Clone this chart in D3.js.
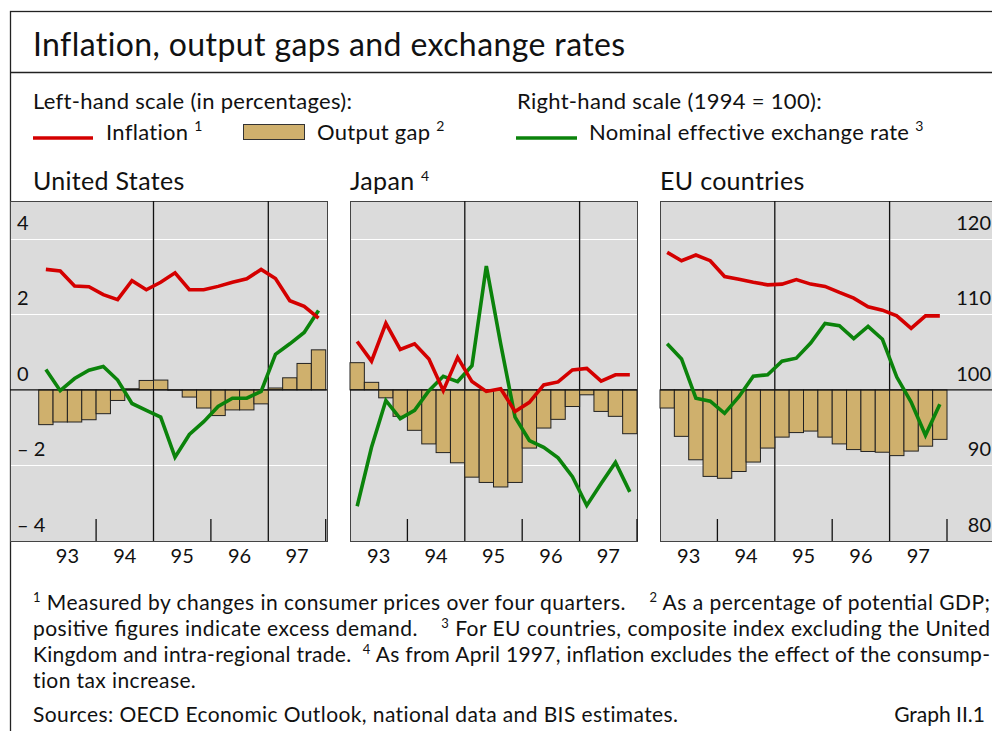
<!DOCTYPE html>
<html lang="en">
<head>
<meta charset="utf-8">
<title>Inflation, output gaps and exchange rates</title>
<script src="https://cdn.jsdelivr.net/npm/d3@7"></script>
<style>
  body { margin: 0; background: #fff; }
  svg text { font-family: Lato, "Open Sans", sans-serif; fill: #111; }
</style>
</head>
<body>
<svg width="992" height="731"></svg>
<script>
// quarterly, 1993 Q1 .. 1997 Q4
var countries = ['United States', 'Japan', 'EU countries'];
var years = [93, 94, 95, 96, 97];

// output gap, % of potential GDP (left scale)
var gapUS = [-0.92, -0.85, -0.85, -0.79, -0.63, -0.28, 0.03, 0.25, 0.26, -0.01, -0.19, -0.48, -0.68, -0.53, -0.53, -0.37, 0.05, 0.32, 0.70, 1.06];
var gapJP = [0.72, 0.20, -0.21, -0.70, -1.07, -1.43, -1.66, -1.93, -2.31, -2.45, -2.57, -2.45, -1.54, -1.01, -0.78, -0.44, -0.13, -0.57, -0.70, -1.16];
var gapEU = [-0.48, -1.23, -1.85, -2.29, -2.34, -2.16, -1.91, -1.54, -1.25, -1.13, -1.09, -1.25, -1.43, -1.58, -1.63, -1.65, -1.74, -1.62, -1.49, -1.31];

// inflation, % (left scale)
var inflUS = [3.19, 3.15, 2.75, 2.73, 2.52, 2.39, 2.89, 2.65, 2.85, 3.10, 2.65, 2.65, 2.74, 2.85, 2.94, 3.19, 2.95, 2.36, 2.21, 1.90];
var inflJP = [1.28, 0.76, 1.76, 1.07, 1.22, 0.82, -0.02, 0.86, 0.22, -0.04, 0.03, -0.57, -0.33, 0.13, 0.21, 0.53, 0.57, 0.23, 0.40, 0.40];
var inflEU = [3.64, 3.42, 3.57, 3.42, 3.00, 2.93, 2.85, 2.78, 2.80, 2.92, 2.80, 2.74, 2.58, 2.43, 2.20, 2.11, 1.96, 1.63, 1.96, 1.96];

// nominal effective exchange rate, 1994 = 100 (right scale)
var neerUS = [102.7, 99.9, 101.5, 102.6, 103.1, 101.3, 98.2, 97.3, 96.4, 91.1, 94.1, 95.8, 97.8, 98.9, 98.9, 99.8, 104.7, 106.1, 107.6, 110.5];
var neerJP = [84.6, 92.4, 98.6, 96.2, 97.3, 99.9, 101.8, 101.1, 103.2, 116.4, 106.1, 96.4, 93.3, 92.4, 91.0, 88.5, 84.7, 87.6, 90.4, 86.5];
var neerEU = [106.1, 104.1, 98.9, 98.5, 96.9, 99.1, 101.8, 102.0, 103.8, 104.2, 106.2, 108.8, 108.5, 106.8, 108.4, 106.7, 101.7, 98.4, 94.0, 98.1];

var leftTicks = [4, 2, 0, -2, -4];
var leftTickLabels = ['4', '2', '0', '\u2013 2', '\u2013 4'];
var rightTicks = [120, 110, 100, 90, 80];

var svg = d3.select('svg');
var RED = '#d40000', GREEN = '#0b830b', TAN = '#cfb06d', PANEL = '#dbdbdb';

// frame and title
svg.append('rect').attr('x', 10.5).attr('y', 11.5).attr('width', 1000).attr('height', 800)
    .attr('fill', 'none').attr('stroke', '#222').attr('stroke-width', 1.3);
svg.append('line').attr('x1', 10).attr('x2', 992).attr('y1', 72.5).attr('y2', 72.5)
    .attr('stroke', '#222').attr('stroke-width', 1.3);
svg.append('text').attr('x', 33).attr('y', 56).attr('font-size', 32).attr('letter-spacing', 0.4)
    .text('Inflation, output gaps and exchange rates');

// legend
var legendText = function(sel) { return sel.attr('font-size', 22).attr('letter-spacing', 0.3); };
svg.append('text').attr('x', 33).attr('y', 109).call(legendText).text('Left-hand scale (in percentages):');
svg.append('text').attr('x', 517).attr('y', 109).call(legendText).text('Right-hand scale (1994 = 100):');

function sup(sel, main, s) {
    sel.append('tspan').text(main + ' ');
    sel.append('tspan').attr('font-size', 14).attr('dy', -9).text(s);
}
svg.append('line').attr('x1', 33).attr('x2', 93).attr('y1', 138).attr('y2', 138).attr('stroke', RED).attr('stroke-width', 3.5);
svg.append('text').attr('x', 106).attr('y', 140).call(legendText).call(sup, 'Inflation', '1');
svg.append('rect').attr('x', 243.5).attr('y', 124.5).attr('width', 61).attr('height', 15)
    .attr('fill', TAN).attr('stroke', '#333');
svg.append('text').attr('x', 317).attr('y', 140).call(legendText).call(sup, 'Output gap', '2');
svg.append('line').attr('x1', 516).attr('x2', 577).attr('y1', 138).attr('y2', 138).attr('stroke', GREEN).attr('stroke-width', 3.5);
svg.append('text').attr('x', 589).attr('y', 140).call(legendText).call(sup, 'Nominal effective exchange rate', '3');

// panels
var panels = [
    {name: countries[0], note: null, left: 10, right: 327, start: 1992.5, gap: gapUS, infl: inflUS, neer: neerUS},
    {name: countries[1], note: '4', left: 350, right: 637, start: 1993, gap: gapJP, infl: inflJP, neer: neerJP},
    {name: countries[2], note: null, left: 660, right: 1010, start: 1993, gap: gapEU, infl: inflEU, neer: neerEU}
];
var yTop = 201, yBottom = 541;
var yL = d3.scaleLinear().domain([-4, 5]).range([yBottom, yTop]);
var yR = d3.scaleLinear().domain([80, 125]).range([yBottom, yTop]);
var perYear = 57.4;

panels.forEach(function(p, pi) {
    var x = d3.scaleLinear().domain([p.start, p.start + 1]).range([p.left, p.left + perYear]);
    var g = svg.append('g');

    var title = g.append('text').attr('x', p.left === 10 ? 33 : p.left).attr('y', 190)
        .attr('font-size', 25).attr('letter-spacing', 0.3);
    if (p.note) title.call(sup, p.name, p.note); else title.text(p.name);

    g.append('rect').attr('x', p.left + 0.5).attr('y', yTop + 0.5)
        .attr('width', p.right - p.left).attr('height', yBottom - yTop)
        .attr('fill', PANEL).attr('stroke', '#444');

    // white gridlines
    g.selectAll('line.grid').data([4, 2, -2])
        .enter().append('line')
        .attr('x1', p.left + 1).attr('x2', p.right)
        .attr('y1', function(v) { return Math.round(yL(v)) + 0.5; })
        .attr('y2', function(v) { return Math.round(yL(v)) + 0.5; })
        .attr('stroke', '#fff').attr('stroke-width', 1.2);

    // year dividers (full) and short ticks
    [1995, 1997].forEach(function(yr) {
        g.append('line').attr('x1', x(yr)).attr('x2', x(yr)).attr('y1', yTop).attr('y2', yBottom)
            .attr('stroke', '#111').attr('stroke-width', 1.3);
    });
    [1994, 1996, 1998].forEach(function(yr) {
        g.append('line').attr('x1', x(yr)).attr('x2', x(yr)).attr('y1', yBottom - 22).attr('y2', yBottom)
            .attr('stroke', '#111').attr('stroke-width', 1.3);
    });

    var qx = function(i) { return x(1993 + i / 4); };
    var qw = x(1993.25) - x(1993);

    g.selectAll('rect.bar').data(p.gap).enter().append('rect')
        .attr('class', 'bar')
        .attr('x', function(d, i) { return qx(i); })
        .attr('width', qw)
        .attr('y', function(d) { return yL(Math.max(0, d)); })
        .attr('height', function(d) { return Math.abs(yL(d) - yL(0)); })
        .attr('fill', TAN).attr('stroke', '#222').attr('stroke-width', 1);

    g.append('line').attr('x1', p.left).attr('x2', p.right).attr('y1', yL(0)).attr('y2', yL(0))
        .attr('stroke', '#111').attr('stroke-width', 1.3);

    var mid = function(d, i) { return qx(i) + qw / 2; };
    g.append('path').datum(p.neer)
        .attr('d', d3.line().x(mid).y(function(d) { return yR(d); }))
        .attr('fill', 'none').attr('stroke', GREEN).attr('stroke-width', 3.6);
    g.append('path').datum(p.infl)
        .attr('d', d3.line().x(mid).y(function(d) { return yL(d); }))
        .attr('fill', 'none').attr('stroke', RED).attr('stroke-width', 3.6);

    g.selectAll('text.yr').data(years).enter().append('text')
        .attr('x', function(d) { return x(1900 + d + 0.5); })
        .attr('y', 563).attr('text-anchor', 'middle').attr('font-size', 20)
        .text(function(d) { return d; });

    if (pi === 0) {
        g.selectAll('text.lt').data(leftTicks).enter().append('text')
            .attr('x', 17).attr('y', function(v) { return yL(v) - 9; })
            .attr('font-size', 20)
            .text(function(v, i) { return leftTickLabels[i]; });
    }
    if (pi === 2) {
        g.selectAll('text.rt').data(rightTicks).enter().append('text')
            .attr('x', 991).attr('y', function(v) { return yR(v) - 9; })
            .attr('text-anchor', 'end').attr('font-size', 20)
            .text(function(v) { return v; });
    }
});

// footnotes
var notes = [
    [['1', ' Measured by changes in consumer prices over four quarters.    '], ['2', ' As a percentage of potential GDP;']],
    [[null, 'positive figures indicate excess demand.    '], ['3', ' For EU countries, composite index excluding the United']],
    [[null, 'Kingdom and intra-regional trade.  '], ['4', ' As from April 1997, inflation excludes the effect of the consump-']],
    [[null, 'tion tax increase.']]
];
notes.forEach(function(line, li) {
    var t = svg.append('text').attr('x', 33).attr('y', 610 + li * 26).attr('font-size', 21)
        .attr('xml:space', 'preserve');
    line.forEach(function(part) {
        if (part[0]) {
            t.append('tspan').attr('font-size', 13).attr('dy', -8).text(part[0]);
            t.append('tspan').attr('dy', 8).text(part[1]);
        } else {
            t.append('tspan').text(part[1]);
        }
    });
    if (li < 3) t.attr('textLength', 957).attr('lengthAdjust', 'spacing');
    else t.attr('letter-spacing', 0.4);
});
svg.append('text').attr('x', 33).attr('y', 722).attr('font-size', 21).attr('letter-spacing', 0.4)
    .text('Sources: OECD Economic Outlook, national data and BIS estimates.');
svg.append('text').attr('x', 985).attr('y', 722).attr('font-size', 21).attr('text-anchor', 'end')
    .text('Graph II.1');
</script>
</body>
</html>
